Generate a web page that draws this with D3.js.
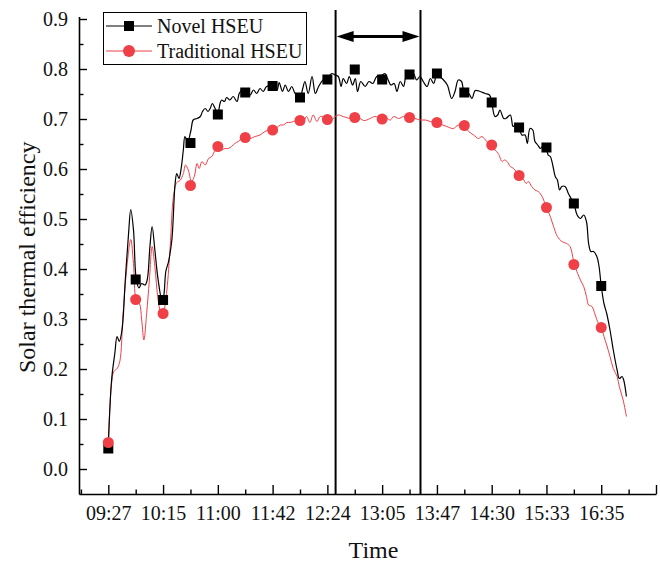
<!DOCTYPE html>
<html>
<head>
<meta charset="utf-8">
<script src="https://cdn.jsdelivr.net/npm/d3@7/dist/d3.min.js"></script>
<style>
  html, body { margin: 0; padding: 0; background: #fff; }
  svg text { font-family: "Times New Roman", "Liberation Serif", serif; fill: #111; }
</style>
</head>
<body>
<script>
// ---------------- data ----------------
const tickLabels = ["09:27","10:15","11:00","11:42","12:24","13:05","13:47","14:30","15:33","16:35"];
const tickPositions = [0,10,20,30,40,50,60,70,80,90,100];
const minorTickPositions = [-5,5,15,25,35,45,55,65,75,85,95];
const yTicks = [0,0.1,0.2,0.3,0.4,0.5,0.6,0.7,0.8,0.9];
const yMinorTicks = [0.05,0.15,0.25,0.35,0.45,0.55,0.65,0.75,0.85];

const markerPositions = [0,5,10,15,20,25,30,35,40,45,50,55,60,65,70,75,80,85,90];
const novelMarkers = [0.041,0.379,0.338,0.652,0.709,0.753,0.766,0.743,0.779,0.799,0.779,0.789,0.791,0.753,0.733,0.683,0.643,0.531,0.366];
const tradMarkers  = [0.053,0.339,0.311,0.567,0.645,0.663,0.678,0.697,0.699,0.703,0.700,0.703,0.693,0.687,0.648,0.587,0.523,0.409,0.283];

const novelCurve = [[0,0.045],[0.6,0.178],[1.2,0.232],[1.6,0.265],[2.0,0.255],[2.5,0.278],[3.1,0.378],[3.7,0.471],[4.1,0.519],[4.6,0.478],[5.1,0.380],[5.6,0.362],[6.1,0.371],[6.7,0.368],[7.1,0.378],[7.6,0.445],[8.0,0.485],[8.5,0.438],[9.1,0.378],[9.8,0.338],[10.1,0.345],[10.5,0.395],[11.0,0.415],[11.6,0.458],[12.2,0.571],[12.5,0.591],[12.9,0.581],[13.3,0.601],[13.7,0.638],[14.0,0.665],[14.5,0.655],[15.1,0.678],[15.5,0.698],[16.2,0.701],[16.8,0.705],[17.2,0.715],[17.7,0.721],[18.2,0.715],[18.6,0.721],[19.0,0.731],[19.5,0.721],[20.0,0.711],[20.4,0.731],[20.7,0.738],[21.2,0.735],[21.6,0.743],[22.2,0.738],[22.8,0.745],[23.5,0.735],[23.9,0.751],[24.4,0.758],[25.0,0.753],[25.9,0.748],[26.5,0.758],[27.1,0.751],[27.7,0.761],[28.3,0.755],[28.9,0.765],[30.0,0.765],[30.8,0.758],[31.2,0.773],[31.8,0.755],[32.3,0.768],[32.9,0.755],[33.5,0.765],[34.1,0.751],[35.0,0.743],[35.5,0.761],[35.9,0.775],[36.5,0.751],[37.2,0.785],[37.8,0.751],[38.4,0.765],[39.2,0.778],[40.0,0.781],[40.8,0.791],[41.4,0.788],[42.0,0.785],[42.5,0.765],[42.9,0.781],[43.5,0.771],[44.0,0.785],[44.6,0.768],[45.1,0.781],[45.5,0.755],[46.1,0.775],[46.9,0.765],[47.6,0.775],[48.3,0.771],[49.0,0.785],[50.0,0.788],[50.5,0.791],[51.1,0.778],[51.6,0.768],[52.2,0.771],[52.7,0.755],[53.3,0.775],[53.9,0.765],[54.4,0.785],[55.0,0.785],[55.7,0.791],[56.3,0.778],[56.9,0.785],[57.5,0.775],[58.2,0.765],[58.8,0.781],[59.4,0.771],[60.0,0.788],[61.2,0.778],[61.9,0.768],[62.7,0.741],[63.3,0.755],[63.9,0.778],[64.5,0.775],[65.0,0.753],[65.8,0.751],[66.4,0.741],[67.0,0.757],[67.9,0.755],[68.8,0.751],[69.6,0.748],[70.0,0.733],[70.6,0.705],[71.1,0.708],[71.5,0.718],[72.2,0.701],[72.6,0.701],[73.4,0.708],[73.9,0.685],[74.3,0.688],[75.0,0.683],[75.5,0.668],[76.1,0.668],[76.5,0.651],[77.0,0.681],[77.5,0.678],[77.9,0.655],[78.4,0.648],[78.9,0.641],[79.5,0.648],[80.0,0.643],[80.3,0.628],[80.7,0.625],[81.2,0.605],[81.6,0.585],[82.0,0.578],[82.4,0.558],[82.8,0.565],[83.4,0.565],[84.0,0.551],[84.5,0.541],[85.0,0.531],[85.6,0.508],[86.2,0.501],[86.8,0.508],[87.3,0.495],[87.7,0.451],[88.1,0.435],[88.6,0.435],[89.2,0.425],[89.6,0.405],[90.0,0.366],[90.5,0.331],[91.0,0.311],[91.6,0.278],[92.2,0.238],[92.9,0.198],[93.3,0.181],[93.8,0.185],[94.1,0.178],[94.6,0.145]];

const tradCurve = [[0,0.053],[0.3,0.125],[0.6,0.171],[1.0,0.195],[1.6,0.201],[2.1,0.215],[2.7,0.311],[3.4,0.405],[4.1,0.459],[4.6,0.411],[5.1,0.339],[5.7,0.331],[6.1,0.298],[6.5,0.258],[7.0,0.311],[7.5,0.378],[8.0,0.445],[8.5,0.405],[9.1,0.338],[9.8,0.301],[10.1,0.311],[10.7,0.358],[11.3,0.445],[11.9,0.545],[12.5,0.573],[13.1,0.577],[13.7,0.591],[14.1,0.608],[14.6,0.598],[15.2,0.575],[15.7,0.585],[16.2,0.611],[16.6,0.601],[17.1,0.615],[17.7,0.608],[18.3,0.621],[18.9,0.625],[19.5,0.638],[20.0,0.645],[20.7,0.638],[21.3,0.641],[21.9,0.641],[22.5,0.645],[23.1,0.651],[23.7,0.655],[24.4,0.661],[25.0,0.663],[25.9,0.661],[26.8,0.665],[27.7,0.668],[28.6,0.675],[30.0,0.681],[30.8,0.683],[31.4,0.688],[32.0,0.688],[32.6,0.693],[33.2,0.693],[33.8,0.695],[34.8,0.698],[35.6,0.695],[36.2,0.705],[36.8,0.693],[37.4,0.708],[38.1,0.695],[38.7,0.705],[40.0,0.700],[40.8,0.698],[41.4,0.705],[42.0,0.708],[42.9,0.705],[44.2,0.701],[45.1,0.703],[46.0,0.701],[46.6,0.697],[47.2,0.698],[47.8,0.701],[48.7,0.705],[50.0,0.700],[50.9,0.701],[51.5,0.698],[52.1,0.705],[53.0,0.701],[53.9,0.705],[55.0,0.703],[56.0,0.701],[56.9,0.698],[57.9,0.698],[58.8,0.695],[60.0,0.692],[61.8,0.685],[63.0,0.681],[63.9,0.688],[65.0,0.686],[65.8,0.675],[66.7,0.668],[67.6,0.661],[68.2,0.665],[69.1,0.655],[69.9,0.648],[70.6,0.638],[71.2,0.631],[71.9,0.615],[72.3,0.618],[72.8,0.615],[73.4,0.605],[74.0,0.601],[75.0,0.587],[75.7,0.581],[76.3,0.571],[76.7,0.575],[77.3,0.565],[77.9,0.558],[78.5,0.555],[79.2,0.545],[80.0,0.523],[80.7,0.505],[81.3,0.485],[82.0,0.465],[82.8,0.455],[83.7,0.451],[84.3,0.445],[85.1,0.409],[85.7,0.391],[86.2,0.378],[86.8,0.365],[87.3,0.345],[87.7,0.328],[88.3,0.325],[88.9,0.308],[89.5,0.291],[90.0,0.283],[90.5,0.265],[91.0,0.248],[91.6,0.225],[92.2,0.201],[92.9,0.185],[93.3,0.165],[94.0,0.138],[94.6,0.105]];

const seriesNames = ["Novel HSEU","Traditional HSEU"];
const seriesColors = ["#000000","#ee4046"];
const periodBounds = [41.5, 57.0];   // highlighted interval (x positions)
const periodLineTop = 0.918;
const periodArrowY = 0.865;

// ---------------- chart ----------------
const W = 660, H = 566;
const svg = d3.select("body").append("svg").attr("width", W).attr("height", H);

const x = d3.scaleLinear().domain([-5.35, 100]).range([79, 656]);
const y = d3.scaleLinear().domain([-0.05, 0.905]).range([494, 16.5]);

// axes
const xAxis = svg.append("g").attr("transform", `translate(0,${y(-0.05)})`)
  .call(d3.axisBottom(x).tickValues(tickPositions)
    .tickFormat((d, i) => tickLabels[i] !== undefined ? tickLabels[i] : "")
    .tickSizeInner(-9).tickSizeOuter(0).tickPadding(12));
svg.append("g").attr("transform", `translate(0,${y(-0.05)})`)
  .call(d3.axisBottom(x).tickValues(minorTickPositions).tickFormat("").tickSize(-4.5))
  .call(g => g.select(".domain").remove());

const yAxis = svg.append("g").attr("transform", `translate(${x(-5.35)},0)`)
  .call(d3.axisLeft(y).tickValues(yTicks).tickFormat(d3.format(".1f"))
    .tickSizeInner(-8).tickSizeOuter(0).tickPadding(11));
svg.append("g").attr("transform", `translate(${x(-5.35)},0)`)
  .call(d3.axisLeft(y).tickValues(yMinorTicks).tickFormat("").tickSize(-4.5))
  .call(g => g.select(".domain").remove());

svg.selectAll(".domain").attr("stroke", "#000").attr("stroke-width", 1.6);
svg.selectAll(".tick line").attr("stroke", "#000").attr("stroke-width", 1.4);
svg.selectAll(".tick text").attr("font-size", 20)
  .attr("font-family", '"Times New Roman", "Liberation Serif", serif').attr("fill", "#111");

// axis titles
svg.append("text").attr("x", (x(-5.35) + x(100)) / 2 + 6).attr("y", 558)
  .attr("text-anchor", "middle").attr("font-size", 24).text("Time");
svg.append("text").attr("transform", `translate(35,${(y(-0.05) + y(0.905)) / 2 + 2}) rotate(-90)`)
  .attr("text-anchor", "middle").attr("font-size", 24).text("Solar thermal efficiency");

// highlighted interval
svg.selectAll(".period").data(periodBounds).join("line")
  .attr("class", "period")
  .attr("x1", d => x(d)).attr("x2", d => x(d))
  .attr("y1", y(periodLineTop)).attr("y2", y(-0.05))
  .attr("stroke", "#000").attr("stroke-width", 2);

const ax0 = x(periodBounds[0]) + 1, ax1 = x(periodBounds[1]) - 1, ay = y(periodArrowY);
const headL = 17, headW = 5.5;
svg.append("line").attr("x1", ax0 + headL - 2).attr("x2", ax1 - headL + 2)
  .attr("y1", ay).attr("y2", ay).attr("stroke", "#000").attr("stroke-width", 3);
svg.append("path").attr("d", `M${ax0},${ay} L${ax0 + headL},${ay - headW} L${ax0 + headL},${ay + headW} Z`).attr("fill", "#000");
svg.append("path").attr("d", `M${ax1},${ay} L${ax1 - headL},${ay - headW} L${ax1 - headL},${ay + headW} Z`).attr("fill", "#000");

// curves
const line = d3.line().x(d => x(d[0])).y(d => y(d[1])).curve(d3.curveCatmullRom.alpha(0.5));
svg.append("path").datum(tradCurve).attr("d", line)
  .attr("fill", "none").attr("stroke", seriesColors[1]).attr("stroke-width", 1);
svg.append("path").datum(novelCurve).attr("d", line)
  .attr("fill", "none").attr("stroke", seriesColors[0]).attr("stroke-width", 1.2);

// markers
const sq = 10, cr = 5.5;
svg.selectAll(".sq").data(novelMarkers).join("rect").attr("class", "sq")
  .attr("x", (d, i) => x(markerPositions[i]) - sq / 2).attr("y", d => y(d) - sq / 2)
  .attr("width", sq).attr("height", sq).attr("fill", seriesColors[0]);
svg.selectAll(".ci").data(tradMarkers).join("circle").attr("class", "ci")
  .attr("cx", (d, i) => x(markerPositions[i])).attr("cy", d => y(d))
  .attr("r", cr).attr("fill", seriesColors[1]);

// legend
const lg = svg.append("g");
lg.append("rect").attr("x", 103.5).attr("y", 12.5).attr("width", 203).attr("height", 52)
  .attr("fill", "#fff").attr("stroke", "#000").attr("stroke-width", 1);
seriesNames.forEach((name, i) => {
  const ly = 26 + i * 25;
  lg.append("line").attr("x1", 106).attr("x2", 152).attr("y1", ly).attr("y2", ly)
    .attr("stroke", seriesColors[i]).attr("stroke-width", i === 0 ? 1.2 : 1);
  if (i === 0) {
    lg.append("rect").attr("x", 129 - sq / 2).attr("y", ly - sq / 2).attr("width", sq).attr("height", sq).attr("fill", seriesColors[0]);
  } else {
    lg.append("circle").attr("cx", 129).attr("cy", ly).attr("r", 6).attr("fill", seriesColors[1]);
  }
  lg.append("text").attr("x", 157).attr("y", ly).attr("dy", "0.35em").attr("font-size", 20).text(name);
});
</script>
</body>
</html>
